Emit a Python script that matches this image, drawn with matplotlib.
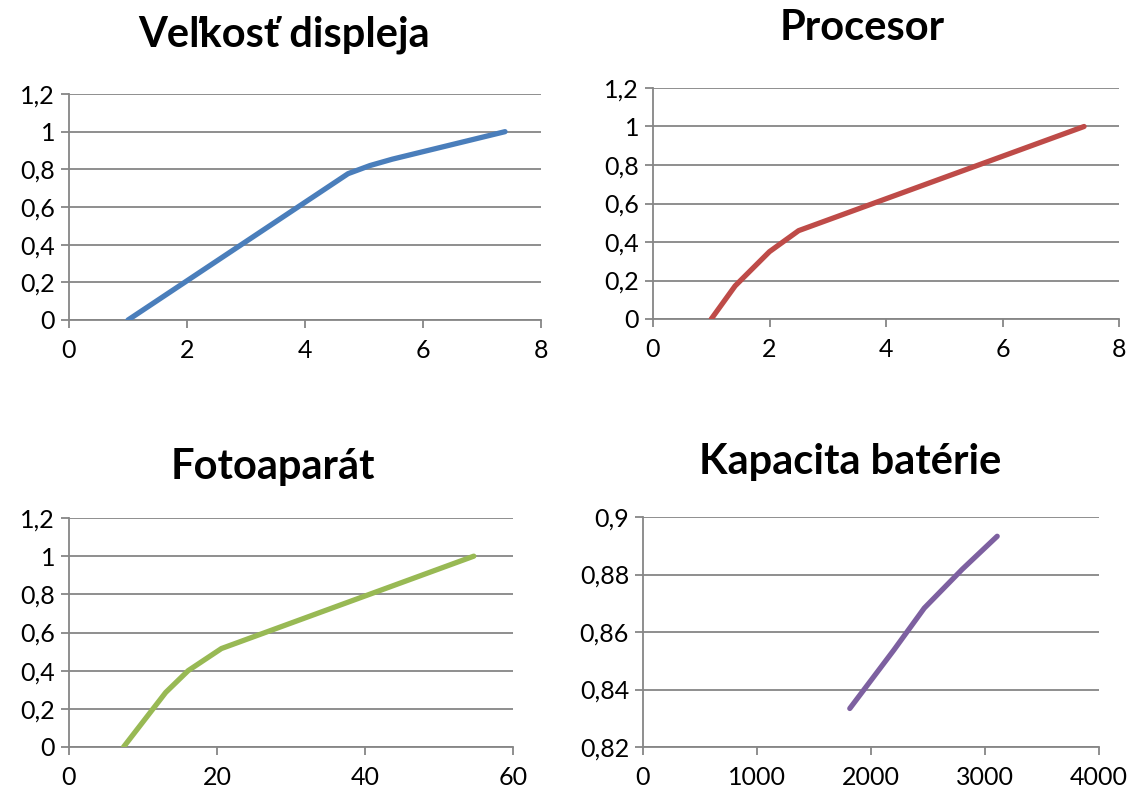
import matplotlib
matplotlib.use("Agg")
import matplotlib.pyplot as plt
from matplotlib.ticker import FuncFormatter, MultipleLocator

# --- data ---
titles = ["Veľkosť displeja", "Procesor", "Fotoaparát", "Kapacita batérie"]

display_x = [1.0, 4.73, 5.1, 5.48, 7.39]
display_y = [0.0, 0.777, 0.82, 0.854, 1.0]

cpu_x = [1.0, 1.41, 2.0, 2.5, 7.4]
cpu_y = [0.0, 0.172, 0.35, 0.459, 1.0]

camera_x = [7.37, 13.07, 16.1, 20.6, 54.7]
camera_y = [0.0, 0.286, 0.40, 0.516, 1.0]

battery_x = [1814, 2200, 2467, 2800, 3107]
battery_y = [0.8334, 0.8537, 0.8683, 0.8818, 0.8933]

colors = ["#4A7EBB", "#BE4B48", "#98B954", "#7D60A0"]

# axis setup: (xmin, xmax, xstep, ymin, ymax, ystep)
limits = [
    (0, 8, 2, 0, 1.2, 0.2),
    (0, 8, 2, 0, 1.2, 0.2),
    (0, 60, 20, 0, 1.2, 0.2),
    (0, 4000, 1000, 0.82, 0.9, 0.02),
]

W, H = 1127, 792
# axes boxes in pixels: left, right, top, bottom
boxes = [
    (69, 541, 94, 320),
    (653, 1119, 88, 319),
    (69, 513, 518, 747),
    (643, 1099, 517, 747),
]
title_pos = [(284, 35), (862, 28), (273, 467), (850, 462)]

plt.rcParams['font.family'] = ['Lato', 'DejaVu Sans']

fig = plt.figure(figsize=(W / 100, H / 100), dpi=100)

series = [(display_x, display_y), (cpu_x, cpu_y),
          (camera_x, camera_y), (battery_x, battery_y)]

grid_col = "#868686"


def comma_fmt(v, pos):
    s = f"{round(v, 6):g}"
    return s.replace(".", ",")


for i, (xs, ys) in enumerate(series):
    l, r, t, b = boxes[i]
    ax = fig.add_axes([l / W, 1 - b / H, (r - l) / W, (b - t) / H])
    xmin, xmax, xstep, ymin, ymax, ystep = limits[i]
    ax.plot(xs, ys, color=colors[i], lw=3.8, solid_capstyle="round",
            solid_joinstyle="round", zorder=3)
    ax.set_xlim(xmin, xmax)
    ax.set_ylim(ymin, ymax)
    ax.xaxis.set_major_locator(MultipleLocator(xstep))
    ax.yaxis.set_major_locator(MultipleLocator(ystep))
    ax.yaxis.set_major_formatter(FuncFormatter(comma_fmt))
    ax.xaxis.set_major_formatter(FuncFormatter(comma_fmt))
    ax.grid(axis="y", color=grid_col, lw=1.3, zorder=1)
    ax.set_axisbelow(True)
    for s in ["top", "right"]:
        ax.spines[s].set_visible(False)
    for s in ["left", "bottom"]:
        ax.spines[s].set_color(grid_col)
        ax.spines[s].set_linewidth(1.3)
    ax.tick_params(axis="both", colors=grid_col, labelcolor="black",
                   labelsize=18, width=1.3, length=6, direction="out")
    ax.tick_params(axis="x", pad=8)
    ax.tick_params(axis="y", pad=4)
    ax.patch.set_visible(False)

    tx, ty = title_pos[i]
    fig.text(tx / W, 1 - ty / H, titles[i], ha="center", va="center",
             fontsize=30, fontweight="bold")

fig.savefig("out.png", dpi=100)
